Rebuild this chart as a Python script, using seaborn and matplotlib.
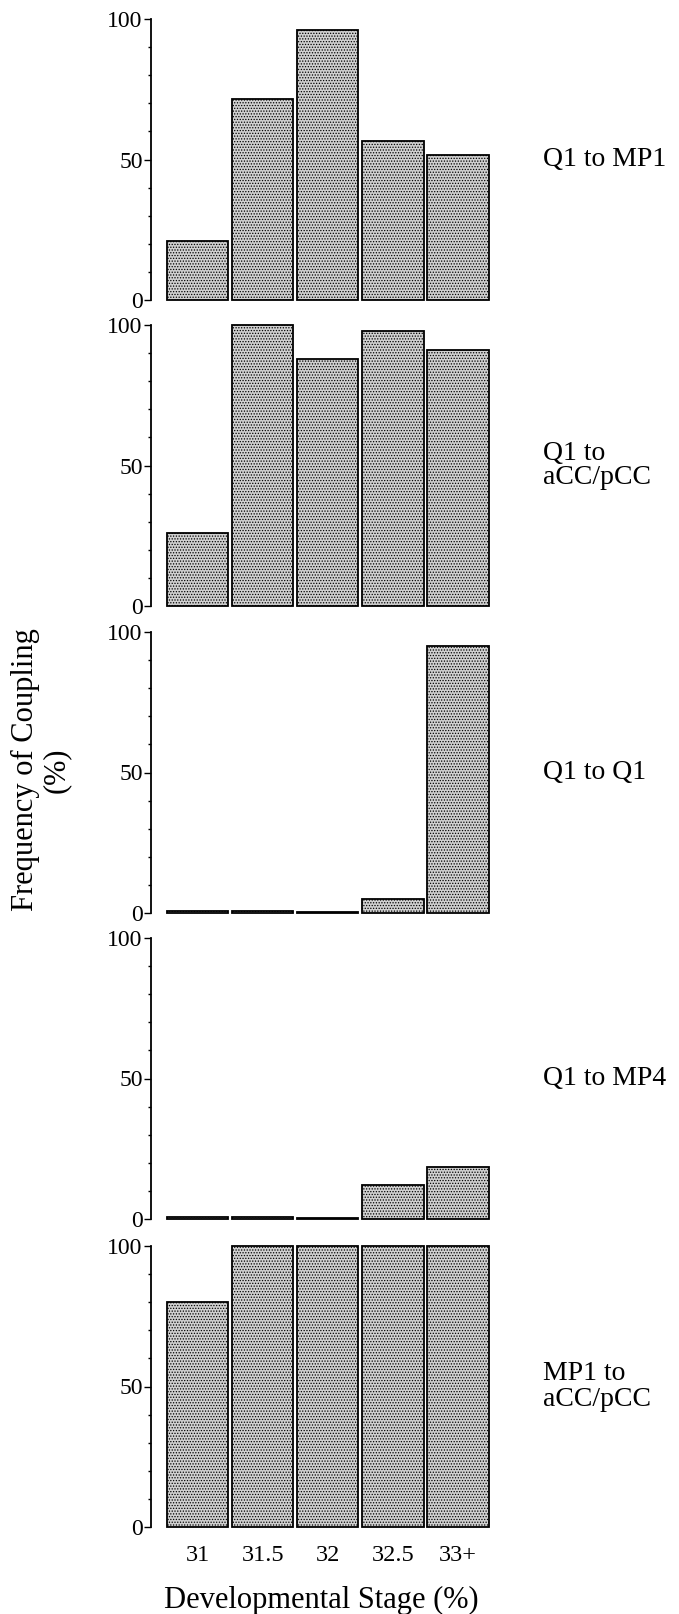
import matplotlib
matplotlib.use("Agg")
import matplotlib.pyplot as plt
import seaborn as sns
import numpy as np
from matplotlib.ticker import MultipleLocator, FixedLocator

# ---- data ----
stages = ["31", "31.5", "32", "32.5", "33+"]
q1_to_mp1 = [21, 71.5, 96, 56.5, 51.5]
q1_to_acc = [26, 100, 88, 98, 91]
q1_to_q1 = [0.6, 0.6, 0.4, 5, 95]
q1_to_mp4 = [0.6, 0.6, 0.4, 12, 18.5]
mp1_to_acc = [80, 100, 100, 100, 100]

panel_labels = ["Q1 to MP1", "Q1 to\naCC/pCC", "Q1 to Q1", "Q1 to MP4", "MP1 to\naCC/pCC"]
panel_values = [q1_to_mp1, q1_to_acc, q1_to_q1, q1_to_mp4, mp1_to_acc]
yticks_major = [0, 50, 100]
ytick_labels = ["0", "50", "100"]

sns.set_theme(style="white")
plt.rcParams["font.family"] = ["Liberation Serif", "DejaVu Serif"]
plt.rcParams["hatch.linewidth"] = 0.6

W, H = 679, 1614
fig = plt.figure(figsize=(W / 100, H / 100), dpi=100)

# panel pixel extents (top of 100, bottom of 0)
tops = [19, 325, 632, 938, 1246]
ph = 281
ax_left = 151 / W
ax_width = (490.5 - 151) / W

axes = []
for i, (vals, lab) in enumerate(zip(panel_values, panel_labels)):
    top = tops[i]
    ax = fig.add_axes([ax_left, 1 - (top + ph) / H, ax_width, ph / H])
    ax.set_facecolor("white")
    sns.barplot(x=stages, y=vals, ax=ax, color="#d0d0d0", saturation=1,
                edgecolor="black", linewidth=1.3, width=0.94, hatch="......")
    for p in ax.patches:
        p.set_clip_on(False)
    ax.set_xlim(-0.72, 4.5)
    ax.set_ylim(0, 100)
    for s in ["top", "right", "bottom"]:
        ax.spines[s].set_visible(False)
    ax.spines["left"].set_color("black")
    ax.spines["left"].set_linewidth(1.3)
    ax.yaxis.set_major_locator(FixedLocator(yticks_major))
    ax.set_yticklabels(ytick_labels)
    ax.yaxis.set_minor_locator(MultipleLocator(10))
    ax.tick_params(axis="y", which="major", left=True, length=5, width=1.0,
                   color="black", pad=1, labelsize=17, labelcolor="black")
    ax.tick_params(axis="y", which="minor", left=True, length=2.5, width=1.0, color="black")
    ax.set_ylabel("")
    ax.set_xlabel("")
    if i < 4:
        ax.tick_params(axis="x", bottom=False, labelbottom=False)
    else:
        ax.tick_params(axis="x", bottom=False, labelbottom=True, pad=7,
                       labelsize=17.5, labelcolor="black")
    ax.grid(False)
    fig.text(543 / W, 1 - (top + ph / 2) / H, lab, ha="left", va="center",
             fontsize=20, linespacing=1.0, color="black")
    axes.append(ax)

fig.text(41 / W, 1 - 770 / H, "Frequency of Coupling\n(%)", rotation=90,
         ha="center", va="center", multialignment="center", fontsize=22,
         linespacing=1.1, color="black")
fig.text(321 / W, 1 - 1600 / H, "Developmental Stage (%)", ha="center",
         va="center", fontsize=22, color="black")

fig.savefig("out.png", dpi=100, facecolor="white")
